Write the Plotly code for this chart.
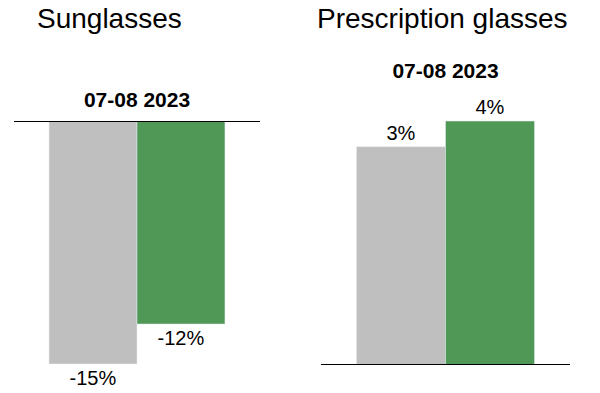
import plotly.graph_objects as go

category = ["07-08 2023"]
sun_prev = [-14.6]
sun_curr = [-12.2]
rx_prev = [3.4]
rx_curr = [3.8]
titles = ["Sunglasses", "Prescription glasses"]

GRAY = "#bfbfbf"
GREEN = "#509855"
FONT = "Liberation Sans, Arial, sans-serif"

def lbl(vals):
    return [f"{round(v):d}%" for v in vals]

fig = go.Figure()
common = dict(textposition="outside", cliponaxis=False,
              textfont=dict(size=20, color="black", family=FONT), showlegend=False)
fig.add_trace(go.Bar(x=category, y=sun_prev, marker_color=GRAY, text=lbl(sun_prev),
                     xaxis="x", yaxis="y", name="Previous", **common))
fig.add_trace(go.Bar(x=category, y=sun_curr, marker_color=GREEN, text=lbl(sun_curr),
                     xaxis="x", yaxis="y", name="Current", **common))
fig.add_trace(go.Bar(x=category, y=rx_prev, marker_color=GRAY, text=lbl(rx_prev),
                     xaxis="x2", yaxis="y2", name="Previous", **common))
fig.add_trace(go.Bar(x=category, y=rx_curr, marker_color=GREEN, text=lbl(rx_curr),
                     xaxis="x2", yaxis="y2", name="Current", **common))

H = 393.0
W = 600.0
tickfont = dict(size=21, color="black", family=FONT, weight="bold")
fig.update_layout(
    width=600, height=393, margin=dict(l=0, r=0, t=0, b=0),
    paper_bgcolor="white", plot_bgcolor="white",
    barmode="group", bargap=0.285, bargroupgap=0,
    font=dict(family=FONT, color="black"),
    xaxis=dict(domain=[14 / W, 260 / W], anchor="y", side="top", showline=False,
               showgrid=False, ticks="", tickfont=tickfont, zeroline=False,
               ticklabelstandoff=9),
    yaxis=dict(domain=[1 - 364 / H, 1 - 121 / H], range=[-14.6, 0], visible=False,
               showgrid=False, zeroline=False),
    xaxis2=dict(domain=[321 / W, 570 / W], anchor="y2", side="top", showline=False,
                showgrid=False, ticks="", tickfont=tickfont, zeroline=False,
                ticklabelstandoff=8),
    yaxis2=dict(domain=[1 - 365 / H, 1 - 91 / H], range=[0, 3.8 * 274 / 244], visible=False,
                showgrid=False, zeroline=False),
    shapes=[
        dict(type="line", xref="x domain", yref="y", x0=0, x1=1, y0=0, y1=0,
             line=dict(color="black", width=2)),
        dict(type="line", xref="x2 domain", yref="y2", x0=0, x1=1, y0=0, y1=0,
             line=dict(color="black", width=2)),
    ],
    annotations=[
        dict(text=titles[0], xref="paper", yref="paper", x=110 / W, y=1 - 1 / H,
             xanchor="center", yanchor="top", showarrow=False,
             font=dict(size=28, color="black", family=FONT)),
        dict(text=titles[1], xref="paper", yref="paper", x=442 / W, y=1 - 1 / H,
             xanchor="center", yanchor="top", showarrow=False,
             font=dict(size=28, color="black", family=FONT)),
    ],
)

fig.write_html("out.html")
